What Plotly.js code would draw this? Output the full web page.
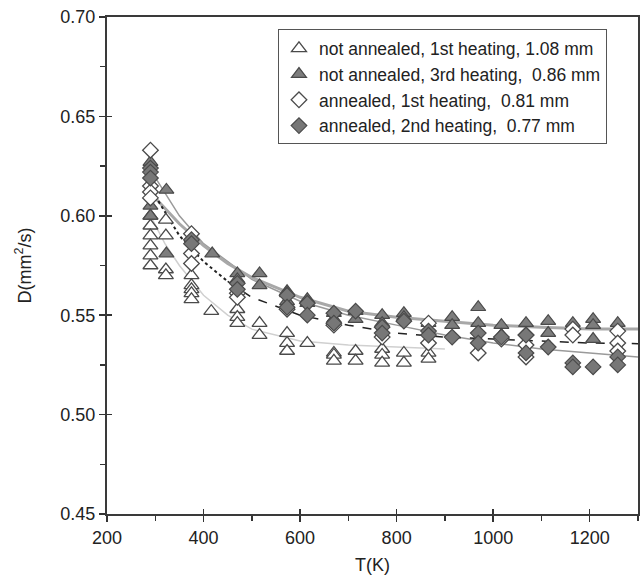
<!DOCTYPE html>
<html>
<head>
<meta charset="utf-8">
<script src="https://cdn.plot.ly/plotly-3.0.1.min.js"></script>
<style>html,body{margin:0;padding:0;background:#fff;}#chart{width:641px;height:585px;}</style>
</head>
<body>
<div id="chart"></div>
<script>
// ---- data ----
const seriesNames = [
  "not annealed, 1st heating, 1.08 mm",
  "not annealed, 3rd heating,\u00a0 0.86 mm",
  "annealed, 1st heating,\u00a0 0.81 mm",
  "annealed, 2nd heating,\u00a0 0.77 mm"
];

// open triangles: not annealed, 1st heating
const naH1_T = [290,290,290,290,290,290, 322,322,322,322, 375,375,375,375,375, 416, 470,470,470, 516,516, 573,573,573, 615, 670,670,670, 715,715, 770,770,770, 815,815, 866,866];
const naH1_D = [0.600,0.595,0.590,0.585,0.580,0.575, 0.598,0.590,0.573,0.570, 0.570,0.565,0.563,0.561,0.558, 0.552, 0.553,0.549,0.546, 0.546,0.540, 0.541,0.536,0.532, 0.536, 0.531,0.530,0.527, 0.532,0.527, 0.533,0.530,0.526, 0.531,0.526, 0.531,0.528];

// filled triangles: not annealed, 3rd heating
const naH3_T = [290,290,290, 323,323, 375, 418, 470,470, 516,516, 573,573,573, 615,615, 670,670, 715,715, 770,770, 815,815, 866, 915,915, 969,969, 1017,1017, 1068, 1114,1114, 1165, 1207,1207,1207, 1258];
const naH3_D = [0.627,0.605,0.600, 0.613,0.581, 0.589, 0.581, 0.571,0.568, 0.571,0.565, 0.562,0.561,0.557, 0.558,0.556, 0.551,0.548, 0.552,0.548, 0.550,0.546, 0.551,0.549, 0.546, 0.549,0.545, 0.554,0.546, 0.545,0.540, 0.546, 0.547,0.541, 0.546, 0.548,0.545,0.538, 0.546];

// open diamonds: annealed, 1st heating
const aH1_T = [290,290,290,290, 375,375,375, 470,470, 573, 670, 770, 866,866, 969, 1017, 1068,1068,1068, 1165,1165, 1258,1258,1258];
const aH1_D = [0.633,0.615,0.612,0.609, 0.591,0.581,0.576, 0.561,0.559, 0.553, 0.545, 0.539, 0.546,0.536, 0.531, 0.538, 0.540,0.535,0.529, 0.543,0.540, 0.542,0.536,0.532];

// filled diamonds: annealed, 2nd heating
const aH2_T = [290,290,290, 375,375, 470,470, 573,573, 615,615, 670,670, 715, 770,770, 815, 866,866, 915, 969,969, 1017, 1068,1068, 1114, 1165,1165, 1207, 1258,1258];
const aH2_D = [0.624,0.622,0.619, 0.588,0.586, 0.566,0.563, 0.560,0.554, 0.556,0.550, 0.551,0.546, 0.552, 0.544,0.541, 0.547, 0.542,0.540, 0.539, 0.541,0.536, 0.539, 0.540,0.531, 0.534, 0.526,0.524, 0.524, 0.529,0.525];

// fitted curves
const fitNaH1_T = [290,320,350,400,450,500,600,700,800,900];
const fitNaH1_D = [0.600,0.586,0.575,0.560,0.550,0.543,0.537,0.535,0.534,0.533];
const fitNaH3_T = [300,350,400,450,500,600,700,800,900,1000,1100,1200,1300];
const fitNaH3_D = [0.609,0.596,0.585,0.576,0.569,0.559,0.552,0.549,0.547,0.545,0.544,0.543,0.543];
const fitAH1dot_T = [300,350,400,450];
const fitAH1dot_D = [0.610,0.590,0.577,0.567];
const fitAH1dash_T = [450,500,600,700,800,900,1000,1100,1200,1300];
const fitAH1dash_D = [0.567,0.559,0.550,0.545,0.541,0.539,0.538,0.537,0.536,0.5357];
const fitAH2_T = [293,350,400,500,600,700,800,900,1000,1100,1200,1300];
const fitAH2_D = [0.622,0.600,0.586,0.568,0.557,0.550,0.545,0.540,0.536,0.533,0.531,0.529];

const xTickVals = [200,400,600,800,1000,1200];
const yTickVals = [0.45,0.50,0.55,0.60,0.65,0.70];
const yTickText = ["0.45","0.50","0.55","0.60","0.65","0.70"];

// ---- traces ----
const lineTraces = [
  {x: fitNaH1_T, y: fitNaH1_D, mode: 'lines', line: {color: '#d0d0d0', width: 1.5}, showlegend: false, hoverinfo: 'skip'},
  {x: fitAH2_T, y: fitAH2_D, mode: 'lines', line: {color: '#9a9a9a', width: 1.5}, showlegend: false, hoverinfo: 'skip'},
  {x: fitNaH3_T, y: fitNaH3_D, mode: 'lines', line: {color: '#a8a8a8', width: 3}, showlegend: false, hoverinfo: 'skip'},
  {x: fitAH1dot_T, y: fitAH1dot_D, mode: 'lines', line: {color: '#222', width: 2, dash: 'dot'}, showlegend: false, hoverinfo: 'skip'},
  {x: fitAH1dash_T, y: fitAH1dash_D, mode: 'lines', line: {color: '#222', width: 1.5, dash: 'dash'}, showlegend: false, hoverinfo: 'skip'}
];

const edge = '#4a4a4a';
const pointTraces = [
  {x: naH1_T, y: naH1_D, name: seriesNames[0], mode: 'markers',
   marker: {symbol: 'triangle-up', size: 13, color: '#ffffff', line: {color: edge, width: 1.3}}},
  {x: naH3_T, y: naH3_D, name: seriesNames[1], mode: 'markers',
   marker: {symbol: 'triangle-up', size: 13, color: '#7d7d7d', line: {color: edge, width: 1.2}}},
  {x: aH1_T, y: aH1_D, name: seriesNames[2], mode: 'markers',
   marker: {symbol: 'diamond', size: 12, color: '#ffffff', line: {color: edge, width: 1.3}}},
  {x: aH2_T, y: aH2_D, name: seriesNames[3], mode: 'markers',
   marker: {symbol: 'diamond', size: 12, color: '#777777', line: {color: edge, width: 1.2}}}
];

// invisible helper trace on overlay axes (for the inner half of the crossing ticks)
const helper = {x: [200], y: [0.45], xaxis: 'x2', yaxis: 'y2', mode: 'markers',
  marker: {opacity: 0}, showlegend: false, hoverinfo: 'skip'};

const font = 'Liberation Sans, Arial, sans-serif';
const layout = {
  width: 641, height: 585,
  margin: {l: 107, r: 1, t: 17, b: 71},
  paper_bgcolor: '#ffffff', plot_bgcolor: '#ffffff',
  font: {family: font, color: '#222', size: 18},
  showlegend: true,
  legend: {
    x: 0.322, y: 0.975, xanchor: 'left', yanchor: 'top',
    bgcolor: '#ffffff', bordercolor: '#555', borderwidth: 1,
    font: {family: font, size: 17.5, color: '#222'},
    itemwidth: 30, tracegroupgap: 0
  },
  xaxis: {
    range: [200, 1300], tickvals: xTickVals, ticks: 'outside', ticklen: 6, tickwidth: 1.5, tickcolor: '#333',
    minor: {dtick: 100, ticks: 'outside', ticklen: 5, tickwidth: 1.5, tickcolor: '#333'},
    showgrid: false, zeroline: false, showline: true, linecolor: '#3a3a3a', linewidth: 2, mirror: true,
    automargin: true,
    tickfont: {family: font, size: 18, color: '#222'},
    title: {text: 'T(K)', font: {family: font, size: 18, color: '#222'}, standoff: 12}
  },
  yaxis: {
    range: [0.45, 0.70], tickvals: yTickVals, ticktext: yTickText, ticks: 'outside', ticklen: 6, tickwidth: 1.5, tickcolor: '#333',
    minor: {dtick: 0.025, ticks: 'outside', ticklen: 5, tickwidth: 1.5, tickcolor: '#333'},
    showgrid: false, zeroline: false, showline: true, linecolor: '#3a3a3a', linewidth: 2, mirror: true,
    automargin: true,
    tickfont: {family: font, size: 18, color: '#222'},
    title: {text: 'D(mm<sup>2</sup>/s)', font: {family: font, size: 18, color: '#222'}, standoff: 24}
  },
  xaxis2: {overlaying: 'x', range: [200, 1300], tickvals: xTickVals, ticks: 'inside', ticklen: 5, tickwidth: 1.5, tickcolor: '#333',
    showticklabels: false, showgrid: false, zeroline: false, showline: false, side: 'bottom'},
  yaxis2: {overlaying: 'y', range: [0.45, 0.70], tickvals: yTickVals, ticks: 'inside', ticklen: 5, tickwidth: 1.5, tickcolor: '#333',
    showticklabels: false, showgrid: false, zeroline: false, showline: false, side: 'left'}
};

Plotly.newPlot('chart', lineTraces.concat(pointTraces, [helper]), layout, {displayModeBar: false, staticPlot: true});
</script>
</body>
</html>
